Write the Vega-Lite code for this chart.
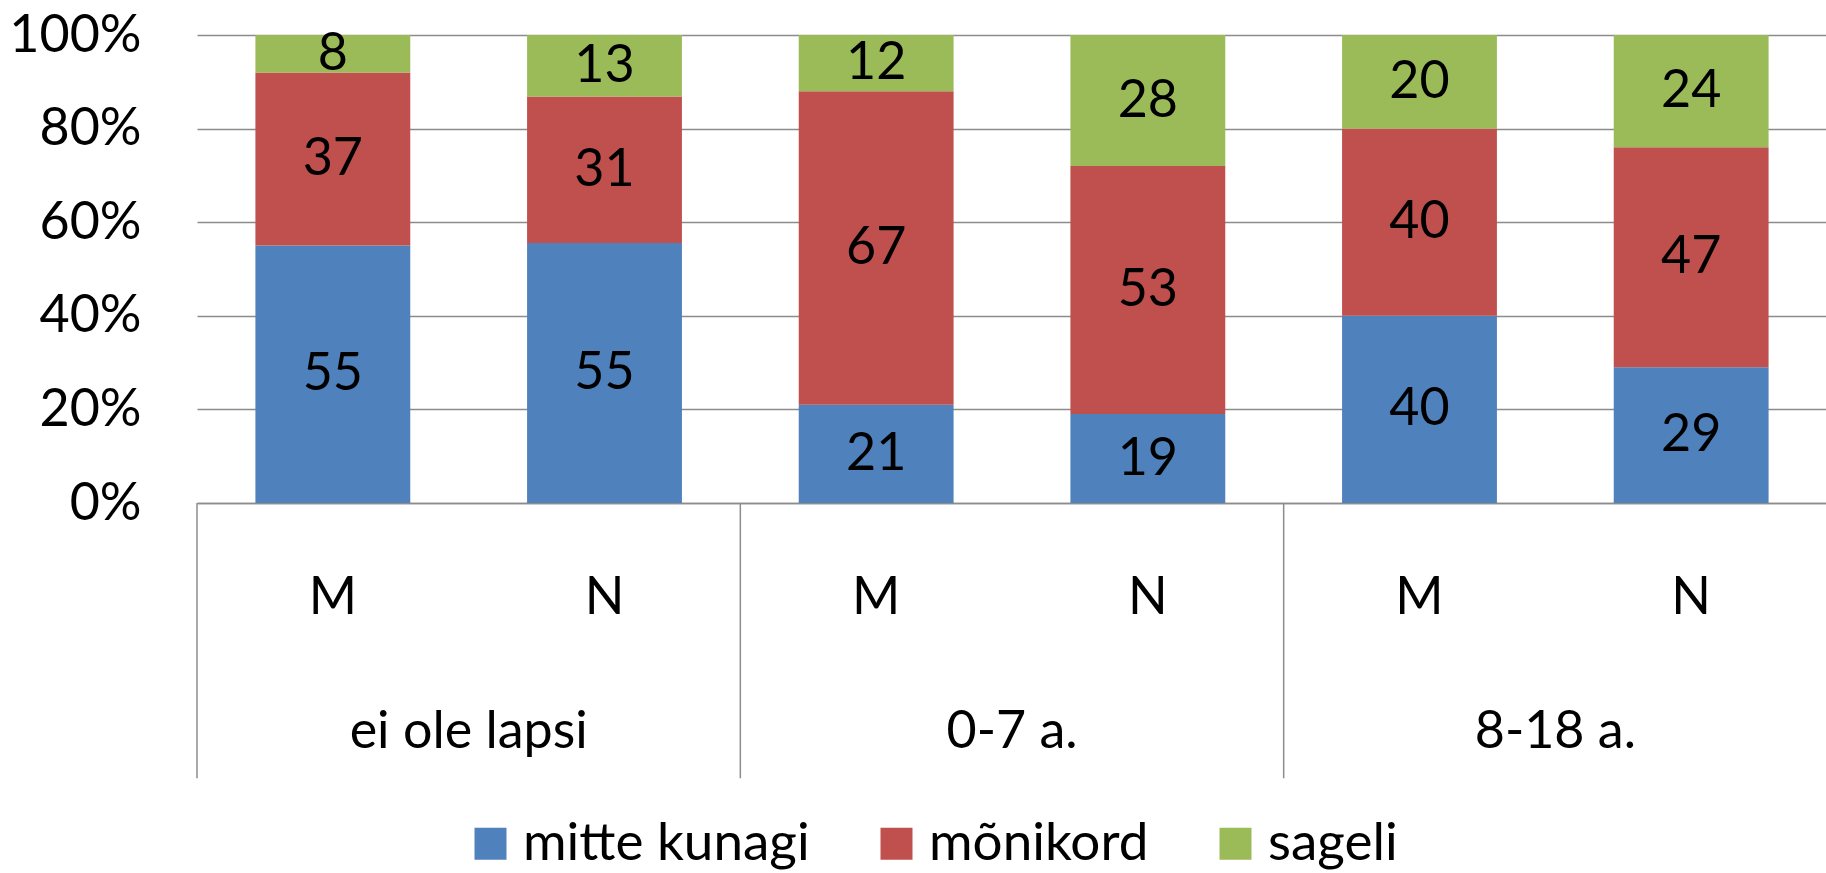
{
  "$schema": "https://vega.github.io/schema/vega-lite/v6.json",
  "width": 1630,
  "height": 468,
  "autosize": {"type": "none"},
  "padding": {"left": 197, "top": 35, "right": 0, "bottom": 370},
  "config": {
    "view": {"stroke": null},
    "font": "Lato",
    "text": {"font": "Lato"}
  },
  "datasets": {
    "bars": [
      {"grp": "ei ole lapsi", "sex": "M", "key": "ei ole lapsi|M", "cat": "mitte kunagi", "o": 1, "v": 55},
      {"grp": "ei ole lapsi", "sex": "M", "key": "ei ole lapsi|M", "cat": "mõnikord", "o": 2, "v": 37},
      {"grp": "ei ole lapsi", "sex": "M", "key": "ei ole lapsi|M", "cat": "sageli", "o": 3, "v": 8},
      {"grp": "ei ole lapsi", "sex": "N", "key": "ei ole lapsi|N", "cat": "mitte kunagi", "o": 1, "v": 55},
      {"grp": "ei ole lapsi", "sex": "N", "key": "ei ole lapsi|N", "cat": "mõnikord", "o": 2, "v": 31},
      {"grp": "ei ole lapsi", "sex": "N", "key": "ei ole lapsi|N", "cat": "sageli", "o": 3, "v": 13},
      {"grp": "0-7 a.", "sex": "M", "key": "0-7 a.|M", "cat": "mitte kunagi", "o": 1, "v": 21},
      {"grp": "0-7 a.", "sex": "M", "key": "0-7 a.|M", "cat": "mõnikord", "o": 2, "v": 67},
      {"grp": "0-7 a.", "sex": "M", "key": "0-7 a.|M", "cat": "sageli", "o": 3, "v": 12},
      {"grp": "0-7 a.", "sex": "N", "key": "0-7 a.|N", "cat": "mitte kunagi", "o": 1, "v": 19},
      {"grp": "0-7 a.", "sex": "N", "key": "0-7 a.|N", "cat": "mõnikord", "o": 2, "v": 53},
      {"grp": "0-7 a.", "sex": "N", "key": "0-7 a.|N", "cat": "sageli", "o": 3, "v": 28},
      {"grp": "8-18 a.", "sex": "M", "key": "8-18 a.|M", "cat": "mitte kunagi", "o": 1, "v": 40},
      {"grp": "8-18 a.", "sex": "M", "key": "8-18 a.|M", "cat": "mõnikord", "o": 2, "v": 40},
      {"grp": "8-18 a.", "sex": "M", "key": "8-18 a.|M", "cat": "sageli", "o": 3, "v": 20},
      {"grp": "8-18 a.", "sex": "N", "key": "8-18 a.|N", "cat": "mitte kunagi", "o": 1, "v": 29},
      {"grp": "8-18 a.", "sex": "N", "key": "8-18 a.|N", "cat": "mõnikord", "o": 2, "v": 47},
      {"grp": "8-18 a.", "sex": "N", "key": "8-18 a.|N", "cat": "sageli", "o": 3, "v": 24}
    ],
    "groups": [
      {"grp": "ei ole lapsi", "first": "ei ole lapsi|M", "mid": "ei ole lapsi|N"},
      {"grp": "0-7 a.", "first": "0-7 a.|M", "mid": "0-7 a.|N"},
      {"grp": "8-18 a.", "first": "8-18 a.|M", "mid": "8-18 a.|N"}
    ]
  },
  "layer": [
    {
      "data": {"name": "bars"},
      "mark": {"type": "bar", "width": {"band": 0.57}},
      "encoding": {
        "x": {
          "field": "key",
          "type": "nominal",
          "sort": null,
          "scale": {
            "domain": ["ei ole lapsi|M", "ei ole lapsi|N", "0-7 a.|M", "0-7 a.|N", "8-18 a.|M", "8-18 a.|N"],
            "paddingInner": 0,
            "paddingOuter": 0
          },
          "axis": {
            "title": null,
            "labelExpr": "split(datum.label, '|')[1]",
            "labelAngle": 0,
            "labelFontSize": 52,
            "labelColor": "#000000",
            "labelFont": "Lato",
            "labelBaseline": "middle",
            "labelPadding": 94,
            "ticks": false,
            "domainColor": "#8c8c8c",
            "domainWidth": 1.5,
            "grid": false
          }
        },
        "y": {
          "field": "v",
          "type": "quantitative",
          "stack": "normalize",
          "scale": {"domain": [0, 1], "nice": false},
          "axis": {
            "title": null,
            "values": [0, 0.2, 0.4, 0.6, 0.8, 1],
            "format": ".0%",
            "labelFontSize": 52,
            "labelColor": "#000000",
            "labelFont": "Lato",
            "labelPadding": 56,
            "ticks": false,
            "domain": false,
            "grid": true,
            "gridColor": "#8c8c8c",
            "gridWidth": 1.5
          }
        },
        "color": {
          "field": "cat",
          "type": "nominal",
          "scale": {
            "domain": ["mitte kunagi", "mõnikord", "sageli"],
            "range": ["#4F81BD", "#C0504D", "#9BBB59"]
          },
          "legend": {
            "title": null,
            "orient": "none",
            "legendX": 267,
            "legendY": 782,
            "direction": "horizontal",
            "symbolType": "square",
            "symbolSize": 1024,
            "symbolStrokeWidth": 0,
            "labelFontSize": 53,
            "labelFont": "Lato",
            "labelColor": "#000000",
            "labelOffset": 6,
            "columnPadding": 60,
            "labelLimit": 0
          }
        },
        "order": {"field": "o", "type": "quantitative"}
      }
    },
    {
      "data": {"name": "bars"},
      "mark": {"type": "text", "fontSize": 52, "baseline": "middle", "color": "#000000", "font": "Lato"},
      "encoding": {
        "x": {"field": "key", "type": "nominal", "sort": null},
        "y": {"field": "v", "type": "quantitative", "stack": "normalize", "bandPosition": 0.5},
        "detail": {"field": "cat", "type": "nominal"},
        "order": {"field": "o", "type": "quantitative"},
        "text": {"field": "v", "type": "quantitative"}
      }
    },
    {
      "data": {"name": "groups"},
      "mark": {"type": "rule", "color": "#8c8c8c", "strokeWidth": 1.5},
      "encoding": {
        "x": {"field": "first", "type": "nominal", "bandPosition": 0},
        "y": {"datum": 0},
        "y2": {"datum": -0.588}
      }
    },
    {
      "data": {"name": "groups"},
      "mark": {"type": "text", "fontSize": 52, "baseline": "middle", "color": "#000000", "font": "Lato"},
      "encoding": {
        "x": {"field": "mid", "type": "nominal", "bandPosition": 0},
        "y": {"datum": -0.49},
        "text": {"field": "grp", "type": "nominal"}
      }
    }
  ]
}
